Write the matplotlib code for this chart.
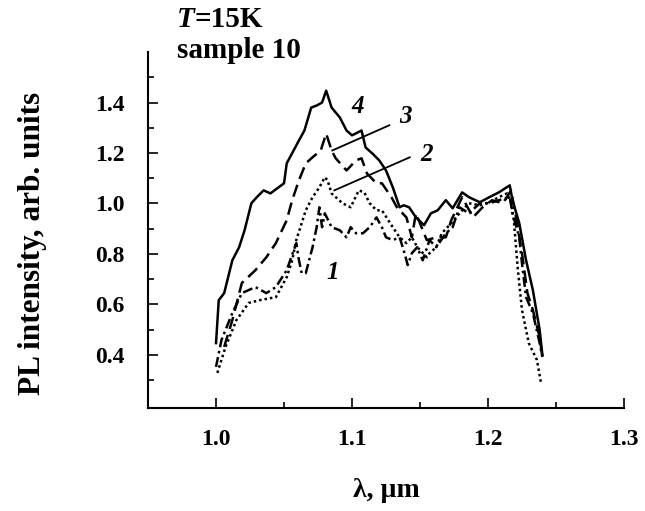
import matplotlib
matplotlib.use("Agg")
import matplotlib.pyplot as plt
from matplotlib.ticker import FixedLocator

plt.rcParams['font.family'] = ['Liberation Serif', 'DejaVu Serif']
plt.rcParams['font.weight'] = 'bold'
plt.rcParams['axes.labelweight'] = 'bold'

# curve 4 (solid)
wl_4 = [1.000, 1.002, 1.006, 1.012, 1.017, 1.021, 1.026, 1.030, 1.035, 1.040,
        1.046, 1.050, 1.052, 1.061, 1.065, 1.070, 1.074, 1.078, 1.081, 1.085,
        1.091, 1.096, 1.100, 1.107, 1.110, 1.115, 1.120, 1.125, 1.130, 1.135,
        1.138, 1.142, 1.147, 1.153, 1.158, 1.163, 1.169, 1.174, 1.181, 1.186,
        1.194, 1.201, 1.208, 1.216, 1.218, 1.223, 1.228, 1.233, 1.238, 1.240]
pl_4 = [0.447, 0.617, 0.645, 0.775, 0.827, 0.894, 1.001, 1.025, 1.052, 1.040,
        1.064, 1.080, 1.159, 1.250, 1.289, 1.380, 1.388, 1.400, 1.447, 1.380,
        1.341, 1.289, 1.270, 1.289, 1.222, 1.198, 1.171, 1.131, 1.064, 0.985,
        0.993, 0.985, 0.945, 0.914, 0.961, 0.973, 1.013, 0.981, 1.044, 1.025,
        1.005, 1.025, 1.044, 1.072, 1.013, 0.922, 0.775, 0.657, 0.499, 0.400]

# curve 3 (dashed)
wl_3 = [1.006, 1.012, 1.019, 1.029, 1.037, 1.044, 1.052, 1.056, 1.061, 1.066,
        1.071, 1.077, 1.081, 1.085, 1.088, 1.096, 1.103, 1.107, 1.111, 1.118,
        1.122, 1.129, 1.133, 1.140, 1.142, 1.144, 1.147, 1.155, 1.162, 1.169,
        1.173, 1.181, 1.189, 1.196, 1.203, 1.211, 1.217, 1.221, 1.225, 1.229,
        1.233, 1.238, 1.240]
pl_3 = [0.432, 0.538, 0.685, 0.736, 0.787, 0.843, 0.934, 1.013, 1.092, 1.159,
        1.183, 1.210, 1.277, 1.210, 1.179, 1.131, 1.171, 1.179, 1.119, 1.080,
        1.080, 1.025, 0.985, 0.945, 0.906, 0.866, 0.961, 0.855, 0.866, 0.866,
        0.934, 1.025, 0.945, 0.985, 1.013, 1.001, 1.052, 0.934, 0.803, 0.645,
        0.578, 0.471, 0.392]

# curve 2 (dotted)
wl_2 = [1.001, 1.007, 1.015, 1.024, 1.032, 1.044, 1.052, 1.056, 1.059, 1.063,
        1.066, 1.071, 1.076, 1.080, 1.082, 1.085, 1.093, 1.099, 1.105, 1.109,
        1.113, 1.118, 1.122, 1.130, 1.135, 1.140, 1.144, 1.148, 1.155, 1.157,
        1.162, 1.166, 1.173, 1.179, 1.186, 1.194, 1.201, 1.208, 1.214, 1.217,
        1.219, 1.222, 1.225, 1.230, 1.236, 1.239]
pl_2 = [0.329, 0.432, 0.538, 0.606, 0.617, 0.629, 0.708, 0.775, 0.855, 0.922,
        0.973, 1.025, 1.064, 1.104, 1.092, 1.040, 1.001, 0.985, 1.052, 1.044,
        1.001, 0.973, 0.973, 0.906, 0.866, 0.843, 0.866, 0.827, 0.787, 0.803,
        0.827, 0.882, 0.922, 0.961, 1.001, 0.993, 1.005, 1.025, 1.040, 1.005,
        0.934, 0.736, 0.578, 0.447, 0.380, 0.289]

# curve 1 (dash-dot)
wl_1 = [1.000, 1.004, 1.012, 1.019, 1.029, 1.037, 1.044, 1.052, 1.059, 1.061,
        1.063, 1.066, 1.071, 1.074, 1.076, 1.078, 1.080, 1.085, 1.091, 1.096,
        1.099, 1.103, 1.108, 1.113, 1.118, 1.122, 1.125, 1.130, 1.135, 1.138,
        1.141, 1.144, 1.148, 1.152, 1.157, 1.162, 1.169, 1.174, 1.179, 1.186,
        1.194, 1.201, 1.208, 1.216, 1.218, 1.223, 1.225, 1.228, 1.233, 1.238,
        1.240]
pl_1 = [0.353, 0.459, 0.566, 0.645, 0.669, 0.645, 0.669, 0.736, 0.843, 0.775,
        0.724, 0.724, 0.827, 0.906, 0.985, 0.906, 0.961, 0.906, 0.894, 0.866,
        0.906, 0.882, 0.882, 0.906, 0.945, 0.906, 0.866, 0.855, 0.866, 0.815,
        0.756, 0.803, 0.827, 0.775, 0.855, 0.827, 0.882, 0.906, 0.985, 0.961,
        1.001, 1.001, 1.013, 1.025, 0.961, 0.866, 0.763, 0.629, 0.566, 0.447,
        0.392]

x_major = [1.0, 1.1, 1.2, 1.3]
x_minor = [1.05, 1.15, 1.25]
y_major = [0.4, 0.6, 0.8, 1.0, 1.2, 1.4]
y_minor = [0.3, 0.5, 0.7, 0.9, 1.1, 1.3, 1.5]

fig = plt.figure(figsize=(6.45, 5.11), dpi=100)
ax = fig.add_axes([0.2295, 0.2016, 0.7379, 0.6966])

lw = 1.8
ax.plot(wl_4, pl_4, color='black', lw=lw, ls='-')
ax.plot(wl_3, pl_3, color='black', lw=lw, ls=(0, (5, 2.5)))
ax.plot(wl_2, pl_2, color='black', lw=lw, ls=(0, (1, 1.2)))
ax.plot(wl_1, pl_1, color='black', lw=lw, ls=(0, (4, 1.5, 1, 1.5)))

ax.set_xlim(0.95, 1.30)
ax.set_ylim(0.19, 1.60)
ax.spines['top'].set_visible(False)
ax.spines['right'].set_visible(False)
for s in ['left', 'bottom']:
    ax.spines[s].set_linewidth(1.5)

ax.xaxis.set_major_locator(FixedLocator(x_major))
ax.xaxis.set_minor_locator(FixedLocator(x_minor))
ax.yaxis.set_major_locator(FixedLocator(y_major))
ax.yaxis.set_minor_locator(FixedLocator(y_minor))
ax.set_xticklabels(['%.1f' % v for v in x_major])
ax.set_yticklabels(['%.1f' % v for v in y_major])
ax.tick_params(which='major', direction='in', length=7.5, width=1.2,
               labelsize=17, pad=15)
ax.tick_params(which='minor', direction='in', length=4, width=1.2)
ax.tick_params(axis='y', which='major', pad=17)

ax.set_xlabel('λ, µm', fontsize=20, fontweight='bold', labelpad=20)
ax.set_ylabel('PL intensity, arb. units', fontsize=22.5, fontweight='bold')
ax.yaxis.set_label_coords(-0.212, 0.4635)

# T=15K with italic T, then sample name
t_lab = fig.text(177 / 645, 1 - 19 / 511, 'T', fontsize=21, fontweight='bold',
                 style='italic', va='center', ha='left')
ax.annotate('=15K', xy=(1.0, 0.5), xycoords=t_lab, fontsize=21,
            fontweight='bold', va='center', ha='left', annotation_clip=False)
fig.text(177 / 645, 1 - 50 / 511, 'sample 10', fontsize=21,
         fontweight='bold', va='center', ha='left')

# curve labels and pointer lines
ax.text(1.1045, 1.385, '4', fontsize=18, style='italic', ha='center', va='center')
ax.text(1.1395, 1.345, '3', fontsize=18, style='italic', ha='center', va='center')
ax.text(1.1545, 1.195, '2', fontsize=18, style='italic', ha='center', va='center')
ax.text(1.0855, 0.725, '1', fontsize=18, style='italic', ha='center', va='center')
ax.plot([1.0855, 1.1275], [1.210, 1.310], color='black', lw=1.3)
ax.plot([1.087, 1.1425], [1.052, 1.183], color='black', lw=1.3)

fig.savefig('out.png', dpi=100)
